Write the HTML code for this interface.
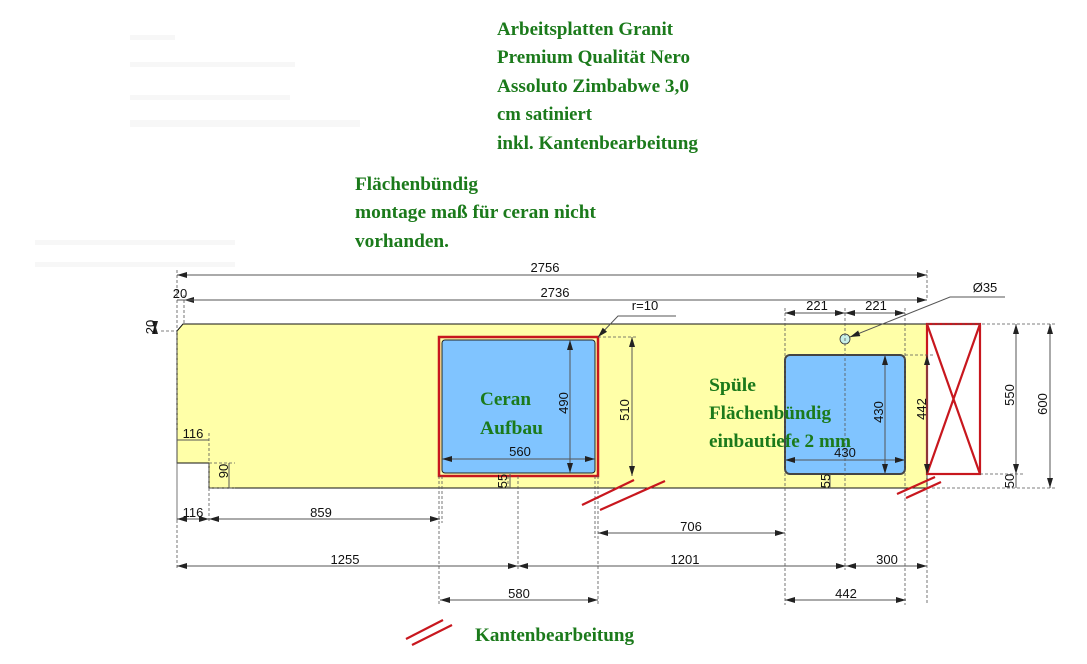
<!DOCTYPE html>
<html><head><meta charset="utf-8"><style>
html,body{margin:0;padding:0;background:#fff;width:1087px;height:664px;overflow:hidden}
svg{display:block}
.g{font-family:"Liberation Serif",serif;font-weight:bold;font-size:18.5px;fill:#1b7a1b}
.d{font-family:"Liberation Sans",sans-serif;font-size:13px;fill:#111}
.dl{stroke:#555;stroke-width:1;fill:none}
.ex{stroke:#555;stroke-width:0.8;stroke-dasharray:3,2;fill:none}
.rd{stroke:#c8171e;stroke-width:2.2;fill:none}
</style></head><body>
<svg width="1087" height="664" viewBox="0 0 1087 664" xmlns="http://www.w3.org/2000/svg">
<defs>
<marker id="a" viewBox="0 0 10 6" refX="10" refY="3" markerWidth="10" markerHeight="6" markerUnits="userSpaceOnUse" orient="auto-start-reverse">
<path d="M0,0 L10,3 L0,6 z" fill="#222"/></marker>
</defs>
<g fill="#f7f7f7"><rect x="130" y="35" width="45" height="5"/><rect x="130" y="62" width="165" height="5"/><rect x="130" y="95" width="160" height="5"/><rect x="130" y="120" width="230" height="7"/><rect x="35" y="240" width="200" height="5"/><rect x="35" y="262" width="200" height="5"/></g>
<path d="M177,331 L183,324 L927,324 L927,488 L209,488 L209,463 L177,463 Z" fill="#ffffa8" stroke="#111" stroke-width="1"/>
<rect x="439" y="337" width="159" height="139" fill="none" stroke="#c8171e" stroke-width="2.5"/>
<rect x="442" y="340" width="153" height="133" rx="3" fill="#80c4ff" stroke="#222" stroke-width="1"/>
<rect x="785" y="355" width="120" height="119" rx="5" fill="#80c4ff" stroke="#444" stroke-width="2"/>
<circle cx="845" cy="339" r="5" fill="#c8f0e8" stroke="#333" stroke-width="0.8"/>
<rect x="927" y="324" width="53" height="150" fill="#fff" class="rd"/>
<path d="M927,324 L980,474 M980,324 L927,474" class="rd"/>
<path class="ex" d="M177,270V570 M184,295V324 M927,270V300 M161,331H177 M177,433V523 M209,433V523 M209,463H235 M209,488H235
M439,476V605 M442,476V523 M598,476V605 M595,476V538 M598,337H636 M518,476V570 M508,476V488
M785,308V605 M845,308V570 M905,308V605 M927,355V605 M905,355H935 M927,324H1057 M927,488H1057 M980,474H1025"/>
<g class="dl" marker-start="url(#a)" marker-end="url(#a)">
<line x1="177" y1="275" x2="927" y2="275"/>
<line x1="184" y1="300" x2="927" y2="300"/>
<line x1="155" y1="324" x2="155" y2="331"/>
<line x1="632" y1="337" x2="632" y2="476"/>
<line x1="570" y1="340" x2="570" y2="473"/>
<line x1="442" y1="459" x2="595" y2="459"/>
<line x1="785" y1="313" x2="845" y2="313"/>
<line x1="845" y1="313" x2="905" y2="313"/>
<line x1="885" y1="355" x2="885" y2="474"/>
<line x1="785" y1="460" x2="905" y2="460"/>
<line x1="927" y1="355" x2="927" y2="474"/>
<line x1="1016" y1="324" x2="1016" y2="474"/>
<line x1="1050" y1="324" x2="1050" y2="488"/>
<line x1="177" y1="519" x2="209" y2="519"/>
<line x1="209" y1="519" x2="440" y2="519"/>
<line x1="598" y1="533" x2="785" y2="533"/>
<line x1="177" y1="566" x2="518" y2="566"/>
<line x1="518" y1="566" x2="846" y2="566"/>
<line x1="846" y1="566" x2="927" y2="566"/>
<line x1="440" y1="600" x2="598" y2="600"/>
<line x1="785" y1="600" x2="906" y2="600"/>
</g>
<g class="dl">
<line x1="177" y1="440" x2="209" y2="440"/>
<line x1="229" y1="463" x2="229" y2="488"/>
<line x1="510" y1="474" x2="510" y2="488"/>
<line x1="830" y1="474" x2="830" y2="488"/>
<line x1="1016" y1="474" x2="1016" y2="488"/>
<line x1="177" y1="300" x2="195" y2="300"/>
</g>
<path class="dl" d="M598,337 L618,316 L676,316" marker-start="url(#a)"/>
<path class="dl" d="M850,337 L950,297 L1005,297" marker-start="url(#a)"/>
<g class="d" text-anchor="middle">
<text x="545" y="272">2756</text>
<text x="555" y="297">2736</text>
<text x="180" y="298">20</text>
<text x="645" y="310">r=10</text>
<text x="520" y="456">560</text>
<text x="845" y="457">430</text>
<text x="817" y="310">221</text>
<text x="876" y="310">221</text>
<text x="985" y="292">Ø35</text>
<text x="193" y="438">116</text>
<text x="193" y="517">116</text>
<text x="321" y="517">859</text>
<text x="691" y="531">706</text>
<text x="345" y="564">1255</text>
<text x="685" y="564">1201</text>
<text x="887" y="564">300</text>
<text x="519" y="598">580</text>
<text x="846" y="598">442</text>
<text transform="translate(155,327) rotate(-90)">20</text>
<text transform="translate(629,410) rotate(-90)">510</text>
<text transform="translate(568,403) rotate(-90)">490</text>
<text transform="translate(883,412) rotate(-90)">430</text>
<text transform="translate(926,409) rotate(-90)">442</text>
<text transform="translate(1014,395) rotate(-90)">550</text>
<text transform="translate(1047,404) rotate(-90)">600</text>
<text transform="translate(1014,481) rotate(-90)">50</text>
<text transform="translate(228,471) rotate(-90)">90</text>
<text transform="translate(507,481) rotate(-90)">55</text>
<text transform="translate(830,481) rotate(-90)">55</text>
</g>
<g stroke="#c8171e" stroke-width="2.2">
<line x1="582" y1="505" x2="634" y2="480"/><line x1="600" y1="510" x2="665" y2="481"/>
<line x1="897" y1="494" x2="935" y2="477"/><line x1="906" y1="498" x2="941" y2="482"/>
<line x1="406" y1="639" x2="443" y2="620"/><line x1="412" y1="645" x2="452" y2="625"/>
</g>
<g class="g">
<text x="497" y="35" textLength="176" lengthAdjust="spacingAndGlyphs">Arbeitsplatten Granit</text>
<text x="497" y="63" textLength="193" lengthAdjust="spacingAndGlyphs">Premium Qualität Nero</text>
<text x="497" y="92" textLength="192" lengthAdjust="spacingAndGlyphs">Assoluto Zimbabwe 3,0</text>
<text x="497" y="120" textLength="95" lengthAdjust="spacingAndGlyphs">cm satiniert</text>
<text x="497" y="149" textLength="201" lengthAdjust="spacingAndGlyphs">inkl. Kantenbearbeitung</text>
<text x="355" y="190" textLength="123" lengthAdjust="spacingAndGlyphs">Flächenbündig</text>
<text x="355" y="218" textLength="241" lengthAdjust="spacingAndGlyphs">montage maß für ceran nicht</text>
<text x="355" y="247" textLength="94" lengthAdjust="spacingAndGlyphs">vorhanden.</text>
<text x="480" y="405" textLength="51" lengthAdjust="spacingAndGlyphs">Ceran</text>
<text x="480" y="434" textLength="63" lengthAdjust="spacingAndGlyphs">Aufbau</text>
<text x="709" y="391" textLength="47" lengthAdjust="spacingAndGlyphs">Spüle</text>
<text x="709" y="419" textLength="122" lengthAdjust="spacingAndGlyphs">Flächenbündig</text>
<text x="709" y="447" textLength="142" lengthAdjust="spacingAndGlyphs">einbautiefe 2 mm</text>
<text x="475" y="641" textLength="159" lengthAdjust="spacingAndGlyphs">Kantenbearbeitung</text>
</g>
</svg>
</body></html>
